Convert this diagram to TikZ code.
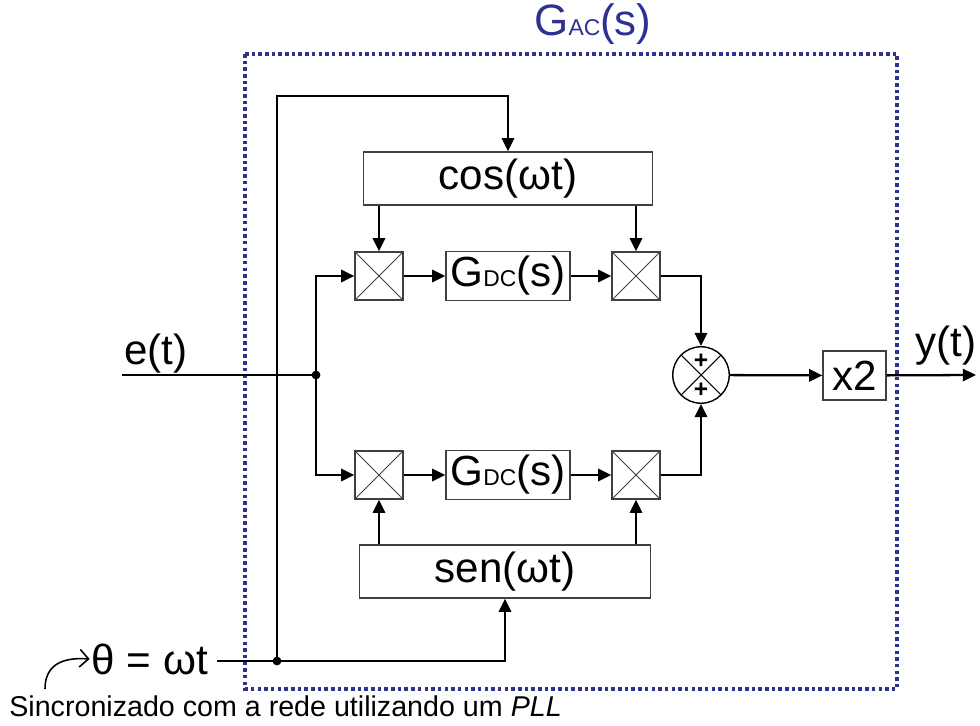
\documentclass[tikz,border=0pt]{standalone}
\usepackage{fontspec}
\setmainfont{Liberation Sans}
\usetikzlibrary{arrows.meta,positioning,calc}
\definecolor{gacblue}{RGB}{46,49,146}

\newcommand{\sub}[1]{{\fontsize{13}{13}\selectfont #1}}

\begin{document}
\begin{tikzpicture}[
    x=0.02cm, y=-0.02cm,
    font=\fontsize{24}{24}\selectfont,
    block/.style={draw=black!75, line width=0.75pt, inner sep=0pt,
        minimum width=#1, minimum height=0.98cm},
    mult/.style={draw=black!75, line width=0.75pt, minimum size=0.96cm, inner sep=0pt,
        path picture={\draw[line width=0.5pt] (path picture bounding box.south west) -- (path picture bounding box.north east)
            (path picture bounding box.north west) -- (path picture bounding box.south east);}},
    sumnode/.style={circle, draw, line width=0.8pt, minimum size=1.13cm, inner sep=0pt,
        path picture={\draw[line width=0.6pt] (path picture bounding box.south west) -- (path picture bounding box.north east)
            (path picture bounding box.north west) -- (path picture bounding box.south east);}},
    wire/.style={line width=1.3pt},
    arrow/.style={-{Triangle[length=7.5pt,width=7pt]}, line width=1.3pt},
    dot/.style={circle, fill, inner sep=0pt, minimum size=5pt}
]
\useasboundingbox (0,0) rectangle (980,726);

% frame of G_AC
\draw[gacblue, line width=2pt, dash pattern=on 2pt off 1.8pt] (245,54) rectangle (897,689);
\node[text=gacblue, font=\fontsize{25}{25}\selectfont] (gac) at (593,24) {G\sub{AC}(s)};

% blocks
\node[block=5.78cm, minimum height=1.06cm] (cos) at (508,178.5) {cos(ωt)};
\node[block=5.82cm, minimum height=1.06cm] (sen) at (505,571.5) {sen(ωt)};
\node[mult] (m1) at (379,276) {};
\node[mult] (m2) at (636,276) {};
\node[mult] (m3) at (379,475) {};
\node[mult] (m4) at (636,475) {};
\node[block=2.48cm] (g1) at (508,276) {G\sub{DC}(s)};
\node[block=2.48cm] (g2) at (508,475) {G\sub{DC}(s)};
\node[sumnode] (sum) at (701,375) {};
\node[font=\fontsize{14}{14}\selectfont\bfseries] (p1) at (701,361) {+};
\node[font=\fontsize{14}{14}\selectfont\bfseries] (p2) at (701,390) {+};
\node[block=1.26cm] (x2) at (854.5,375.5) {x2};

% inputs and outputs
\coordinate (ein) at (122,375);
\coordinate (ej) at (316,375);
\coordinate (tj) at (277,661);
\coordinate (top) at (508,96);
\coordinate (yout) at (976,375);
\node[anchor=south west, inner sep=1pt] (elabel) at (ein) {e(t)};
\node (ylabel) at (946,346) {y(t)};
\node[anchor=east, inner sep=1pt] (theta) at (210,659) {θ = ωt};
\coordinate (pll) at (45,689);
\node[anchor=base west, inner sep=0pt, font=\fontsize{16.3}{16.3}\selectfont] (note) at (9,716)
    {Sincronizado com a rede utilizando um \textit{PLL}};

% connections
\draw[wire] (ein) -- (ej);
\draw[arrow] (ej) |- (m1.west);
\draw[arrow] (ej) |- (m3.west);
\draw[arrow] (m1) -- (g1);
\draw[arrow] (g1) -- (m2);
\draw[arrow] (m3) -- (g2);
\draw[arrow] (g2) -- (m4);
\draw[arrow] (cos.south -| m1) -- (m1.north);
\draw[arrow] (cos.south -| m2) -- (m2.north);
\draw[arrow] (sen.north -| m3) -- (m3.south);
\draw[arrow] (sen.north -| m4) -- (m4.south);
\draw[arrow] (m2.east) -| (sum.north);
\draw[arrow] (m4.east) -| (sum.south);
\draw[arrow] (sum) -- (x2);
\draw[arrow] (x2) -- (yout);
\draw[wire] (217,661) -- (tj);
\draw[arrow] (tj) -- (tj -| sen.south) -- (sen.south);
\draw[arrow] (tj) |- (top) -- (cos.north);
\node[dot] at (ej) {};
\node[dot] at (tj) {};
\draw[-{Straight Barb[length=5pt]}, line width=0.9pt] (pll) .. controls (45,665) and (62,657) .. (theta.west);
\end{tikzpicture}
\end{document}
